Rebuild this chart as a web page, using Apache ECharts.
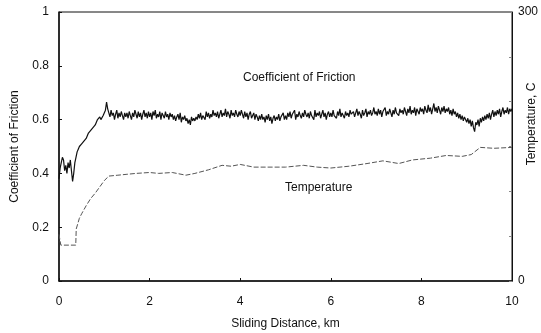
<!DOCTYPE html>
<html>
<head>
<meta charset="utf-8">
<script src="https://cdn.jsdelivr.net/npm/echarts@6/dist/echarts.min.js"></script>
<style>
  html, body { margin: 0; padding: 0; background: #fff; }
  #chart { width: 541px; height: 333px; }
</style>
</head>
<body>
<div id="chart"></div>
<script>
// friction sampled every 0.025 km from 0 to 10 km
var frictionStep = 0.025;
var friction = [
  0.38,0.42,0.44,0.46,0.45,0.41,0.43,0.40,0.44,0.42,0.45,0.41,0.37,0.40,0.44,0.46,0.48,0.49,0.50,0.505,
  0.51,0.515,0.52,0.525,0.53,0.54,0.55,0.555,0.56,0.565,0.57,0.575,0.58,0.59,0.60,0.605,0.61,0.60,0.605,0.615,
  0.62,0.635,0.665,0.64,0.625,0.61,0.635,0.615,0.625,0.60,0.62,0.635,0.605,0.625,0.61,0.63,0.615,0.60,0.625,0.61,
  0.625,0.605,0.63,0.615,0.60,0.625,0.61,0.635,0.62,0.605,0.63,0.61,0.625,0.60,0.62,0.635,0.61,0.625,0.605,0.63,
  0.61,0.625,0.60,0.63,0.615,0.635,0.605,0.62,0.61,0.63,0.60,0.625,0.615,0.605,0.63,0.61,0.62,0.60,0.625,0.61,
  0.62,0.60,0.615,0.595,0.61,0.62,0.60,0.625,0.59,0.61,0.60,0.615,0.595,0.605,0.585,0.60,0.58,0.61,0.595,0.605,
  0.595,0.61,0.60,0.62,0.605,0.625,0.60,0.615,0.62,0.60,0.63,0.61,0.625,0.605,0.62,0.61,0.635,0.615,0.625,0.61,
  0.63,0.605,0.62,0.635,0.61,0.625,0.615,0.64,0.61,0.63,0.62,0.605,0.635,0.615,0.625,0.61,0.635,0.62,0.61,0.63,
  0.615,0.635,0.62,0.605,0.63,0.61,0.625,0.60,0.62,0.63,0.605,0.615,0.625,0.60,0.62,0.61,0.595,0.615,0.60,0.62,
  0.60,0.61,0.59,0.615,0.60,0.62,0.595,0.61,0.585,0.605,0.615,0.595,0.61,0.60,0.62,0.595,0.61,0.605,0.625,0.60,
  0.615,0.60,0.625,0.61,0.63,0.605,0.62,0.615,0.635,0.60,0.62,0.61,0.63,0.615,0.605,0.625,0.61,0.635,0.62,0.61,
  0.625,0.605,0.63,0.615,0.62,0.60,0.635,0.61,0.625,0.615,0.63,0.605,0.62,0.635,0.61,0.625,0.60,0.62,0.63,0.61,
  0.625,0.61,0.635,0.615,0.62,0.605,0.63,0.615,0.64,0.61,0.625,0.62,0.605,0.63,0.615,0.625,0.61,0.635,0.62,0.615,
  0.63,0.61,0.625,0.64,0.615,0.63,0.62,0.605,0.635,0.615,0.625,0.64,0.61,0.63,0.62,0.635,0.615,0.625,0.645,0.62,
  0.63,0.615,0.64,0.62,0.635,0.61,0.63,0.625,0.645,0.615,0.63,0.62,0.64,0.625,0.61,0.635,0.62,0.645,0.625,0.63,
  0.615,0.64,0.625,0.635,0.62,0.645,0.63,0.615,0.64,0.625,0.65,0.62,0.635,0.625,0.645,0.615,0.64,0.63,0.62,0.645,
  0.63,0.64,0.62,0.65,0.635,0.625,0.655,0.63,0.645,0.62,0.64,0.66,0.63,0.645,0.625,0.65,0.635,0.62,0.645,0.63,
  0.65,0.625,0.64,0.63,0.645,0.62,0.635,0.615,0.64,0.62,0.63,0.61,0.625,0.605,0.62,0.60,0.615,0.595,0.61,0.60,
  0.59,0.605,0.585,0.60,0.575,0.595,0.57,0.555,0.59,0.58,0.60,0.575,0.605,0.59,0.61,0.595,0.615,0.60,0.62,0.605,
  0.625,0.60,0.62,0.635,0.61,0.63,0.615,0.635,0.62,0.64,0.61,0.63,0.645,0.62,0.635,0.625,0.645,0.62,0.64,0.63,
  0.64
];

// temperature, read at irregular distances
var tempKm = [0,0.04,0.1,0.2,0.37,0.38,0.45,0.5,0.6,0.7,0.8,0.9,1.0,1.1,1.3,1.5,1.7,2.0,2.2,2.5,2.8,3.0,3.3,3.6,3.8,4.0,4.3,4.6,5.0,5.4,5.7,6.0,6.4,6.8,7.15,7.5,7.8,8.2,8.55,8.9,9.1,9.3,9.6,10];
var tempC  = [52,40,40,40,40,58,70,75,84,92,98,105,112,117,118,119,120,121,120,121,118,120,124,129,128,130,127,127,127,129,127,126,128,131,134,131,135,137,140,139,141,149,148,149];

var leftTicks = [0, 0.2, 0.4, 0.6, 0.8, 1];
var rightTicks = [0, 300];

var frictionData = friction.map(function(v, i){ return [+(i * frictionStep).toFixed(3), v]; });
var tempData = tempKm.map(function(k, i){ return [k, tempC[i]]; });

var font = "'Liberation Sans', Arial, sans-serif";
var ink = '#111';

var chart = echarts.init(document.getElementById('chart'));
var option = {
  animation: false,
  backgroundColor: '#fff',
  textStyle: { fontFamily: font, color: ink },
  grid: {
    left: 59, right: 29, top: 12, bottom: 52,
    outerBoundsMode: 'none',
    containLabel: false,
    show: true, borderColor: ink, borderWidth: 1
  },
  xAxis: {
    type: 'value',
    min: 0, max: 10, interval: 2,
    name: 'Sliding Distance, km',
    nameLocation: 'middle',
    nameGap: 37,
    nameTextStyle: { fontSize: 12, color: ink, fontFamily: font },
    axisLine: { lineStyle: { color: ink, width: 1.5 } },
    axisTick: { inside: true, length: 3, lineStyle: { color: ink } },
    axisLabel: { fontSize: 12, color: ink, margin: 15, fontFamily: font },
    splitLine: { show: false }
  },
  yAxis: [{
    type: 'value',
    min: 0, max: 1, interval: 0.2,
    name: 'Coefficient of Friction',
    nameLocation: 'middle',
    nameGap: 38,
    nameTextStyle: { fontSize: 12, color: ink, fontFamily: font },
    axisLine: { show: true, lineStyle: { color: ink, width: 1.5 } },
    axisTick: { inside: true, length: 3, lineStyle: { color: ink } },
    axisLabel: {
      fontSize: 12, color: ink, margin: 10, fontFamily: font,
      formatter: function(v){ return leftTicks.indexOf(+v.toFixed(1)) >= 0 ? String(+v.toFixed(1)) : ''; }
    },
    splitLine: { show: false }
  }, {
    type: 'value',
    position: 'right',
    min: 0, max: 300, interval: 50,
    axisLine: { show: true, lineStyle: { color: ink, width: 1 } },
    axisTick: { inside: true, length: 3, lineStyle: { color: '#888' } },
    axisLabel: {
      fontSize: 12, color: ink, margin: 6, fontFamily: font,
      formatter: function(v){ return rightTicks.indexOf(v) >= 0 ? String(v) : ''; }
    },
    splitLine: { show: false }
  }],
  graphic: [{
    type: 'text', left: 243, top: 72,
    style: { text: 'Coefficient of Friction', font: '12px ' + font, fill: ink }
  }, {
    type: 'text', left: 285, top: 182,
    style: { text: 'Temperature', font: '12px ' + font, fill: ink }
  }, {
    type: 'text', x: 532, y: 124, rotation: Math.PI / 2,
    style: { text: 'Temperature, C', font: '12px ' + font, fill: ink, align: 'center', verticalAlign: 'middle' }
  }],
  series: [{
    name: 'Coefficient of Friction',
    type: 'line',
    yAxisIndex: 0,
    data: frictionData,
    showSymbol: false,
    symbol: 'none',
    lineStyle: { color: '#111', width: 1.2 }
  }, {
    name: 'Temperature',
    type: 'line',
    yAxisIndex: 1,
    data: tempData,
    showSymbol: false,
    symbol: 'none',
    lineStyle: { color: '#555', width: 1, type: [5, 2] }
  }]
};
chart.setOption(option);
window.addEventListener('resize', function(){ chart.resize(); });
</script>
</body>
</html>
